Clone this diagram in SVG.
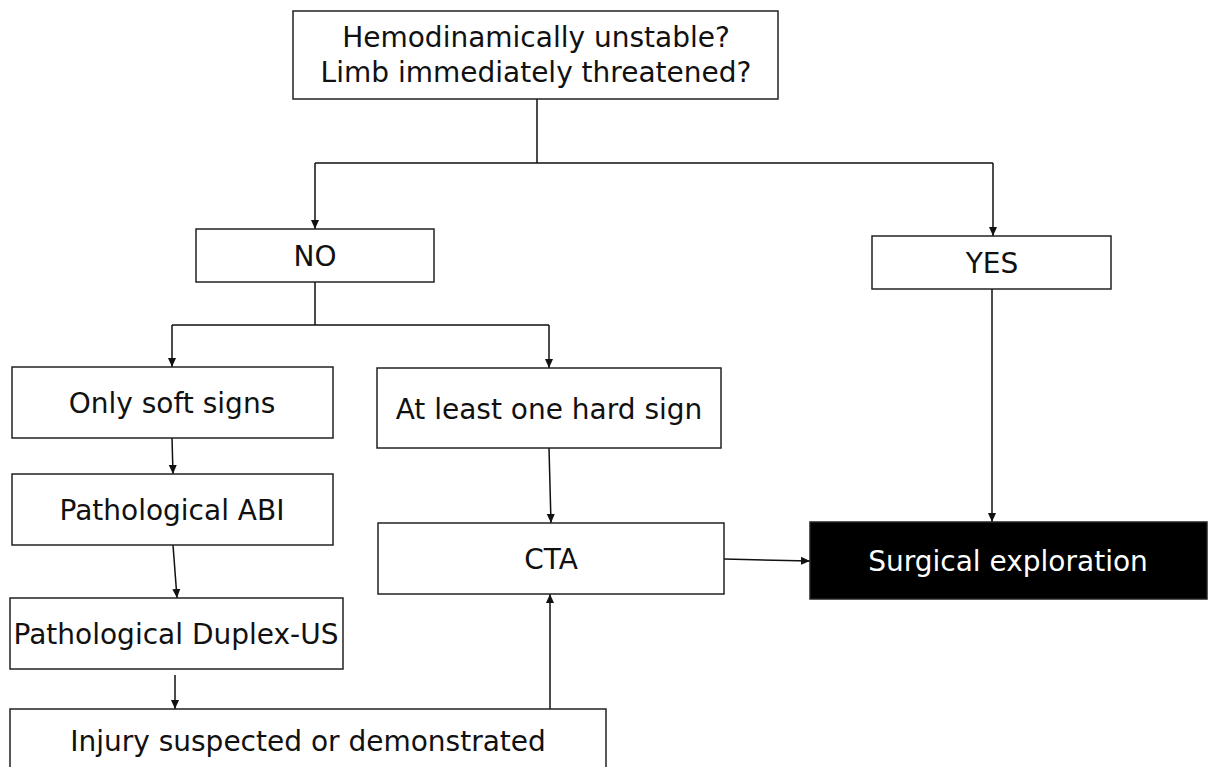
<svg xmlns="http://www.w3.org/2000/svg" width="1208" height="767" viewBox="0 0 1208 767">
<defs>
<marker id="ah" markerWidth="10" markerHeight="10" refX="9" refY="5" orient="auto" markerUnits="userSpaceOnUse">
<path d="M0,1 L9,5 L0,9 Z" fill="#111"/>
</marker>
<style>
.box{fill:#fff;stroke:#222;stroke-width:1.5}
.dark{fill:#000;stroke:#222;stroke-width:1.5}
.t{font-family:"DejaVu Sans",Verdana,sans-serif;font-size:28px;fill:#111;text-anchor:middle}
.tw{font-family:"DejaVu Sans",Verdana,sans-serif;font-size:28px;fill:#fff;text-anchor:middle}
.c{fill:none;stroke:#111;stroke-width:1.5}
.ca{fill:none;stroke:#111;stroke-width:1.5;marker-end:url(#ah)}
</style>
</defs>
<rect width="1208" height="767" fill="#fff"/>
<g id="connectors">
<path class="c" d="M537,99 V163 M315,163 H993"/>
<path class="ca" d="M315,163 V229"/>
<path class="ca" d="M993,163 V236"/>
<path class="c" d="M315,282 V325 M172,325 H549"/>
<path class="ca" d="M172,325 V367"/>
<path class="ca" d="M549,325 V368"/>
<path class="ca" d="M172,438 L173,474"/>
<path class="ca" d="M173,545 L177,598"/>
<path class="ca" d="M175,675 V709"/>
<path class="ca" d="M549,448 L551,523"/>
<path class="ca" d="M550,709 V594"/>
<path class="ca" d="M724,559 L810,561"/>
<path class="ca" d="M992,289 V522"/>
</g>
<g id="n-top">
<rect class="box" x="293" y="11" width="485" height="88"/>
<text class="t" x="536" y="47">Hemodinamically unstable?</text>
<text class="t" x="536" y="82">Limb immediately threatened?</text>
</g>
<g id="n-no">
<rect class="box" x="196" y="229" width="238" height="53"/>
<text class="t" x="315" y="266">NO</text>
</g>
<g id="n-yes">
<rect class="box" x="872" y="236" width="239" height="53"/>
<text class="t" x="992" y="273">YES</text>
</g>
<g id="n-soft">
<rect class="box" x="12" y="367" width="321" height="71"/>
<text class="t" x="172" y="413">Only soft signs</text>
</g>
<g id="n-hard">
<rect class="box" x="377" y="368" width="344" height="80"/>
<text class="t" x="549" y="419">At least one hard sign</text>
</g>
<g id="n-abi">
<rect class="box" x="12" y="474" width="321" height="71"/>
<text class="t" x="172" y="520">Pathological ABI</text>
</g>
<g id="n-cta">
<rect class="box" x="378" y="523" width="346" height="71"/>
<text class="t" x="551" y="569">CTA</text>
</g>
<g id="n-surg">
<rect class="dark" x="810" y="522" width="397" height="77"/>
<text class="tw" x="1008" y="571">Surgical exploration</text>
</g>
<g id="n-duplex">
<rect class="box" x="10" y="598" width="333" height="71"/>
<text class="t" x="176" y="644">Pathological Duplex-US</text>
</g>
<g id="n-injury">
<rect class="box" x="10" y="709" width="596" height="70"/>
<text class="t" x="308" y="751">Injury suspected or demonstrated</text>
</g>
</svg>
